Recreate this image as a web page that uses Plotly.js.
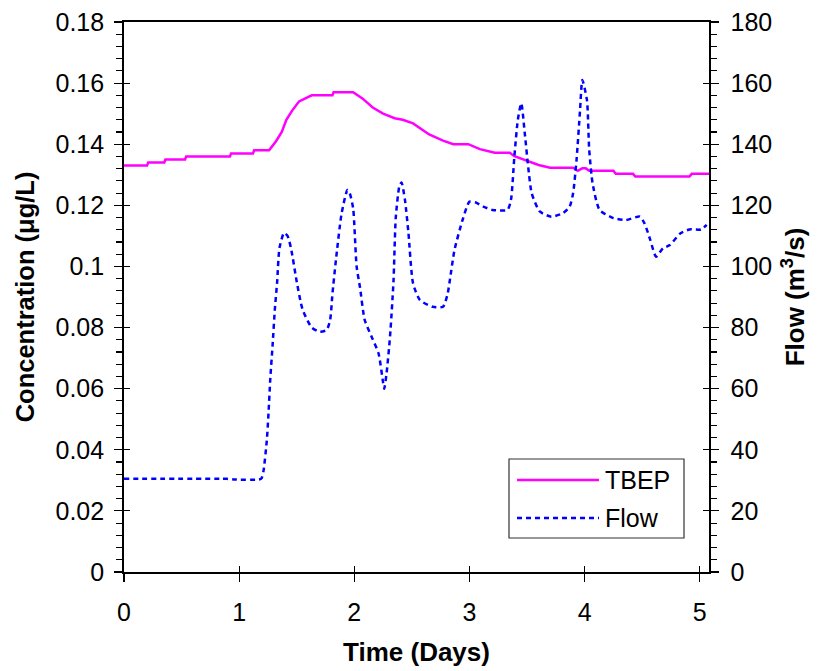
<!DOCTYPE html>
<html>
<head>
<meta charset="utf-8">
<script src="https://cdn.plot.ly/plotly-3.0.1.min.js"></script>
<style>
  html, body { margin: 0; padding: 0; background: #fff; }
  #chart { width: 817px; height: 671px; }
</style>
</head>
<body>
<div id="chart"></div>
<script>
// TBEP concentration (µg/L) against time (days)
const tbepDays = [0, 0.20, 0.21, 0.35, 0.36, 0.53, 0.54, 0.92, 0.93, 1.12, 1.13, 1.26, 1.32, 1.37, 1.41, 1.46, 1.52, 1.57, 1.63, 1.81, 1.82, 1.99, 2.07, 2.16, 2.25, 2.35, 2.42, 2.51, 2.57, 2.65, 2.77, 2.86, 2.99, 3.09, 3.22, 3.35, 3.39, 3.48, 3.55, 3.60, 3.70, 3.90, 3.94, 3.98, 4.01, 4.04, 4.25, 4.27, 4.42, 4.44, 4.91, 4.93, 5.08];
const tbepConc = [0.133, 0.133, 0.134, 0.134, 0.135, 0.135, 0.136, 0.136, 0.137, 0.137, 0.138, 0.138, 0.141, 0.144, 0.148, 0.151, 0.154, 0.155, 0.156, 0.156, 0.157, 0.157, 0.155, 0.152, 0.150, 0.1485, 0.148, 0.1468, 0.1452, 0.1432, 0.1412, 0.140, 0.140, 0.1384, 0.1372, 0.1372, 0.1361, 0.1348, 0.1338, 0.1332, 0.1323, 0.1323, 0.1313, 0.1321, 0.1321, 0.1313, 0.1313, 0.1303, 0.1303, 0.1294, 0.1294, 0.1303, 0.1303];

// River flow (m3/s) against time (days)
const flowDays = [0, 0.89, 0.95, 1.19, 1.21, 1.24, 1.255, 1.27, 1.29, 1.31, 1.33, 1.35, 1.39, 1.42, 1.45, 1.50, 1.55, 1.63, 1.70, 1.76, 1.79, 1.81, 1.84, 1.89, 1.94, 1.96, 1.99, 2.02, 2.05, 2.09, 2.15, 2.21, 2.25, 2.26, 2.28, 2.31, 2.34, 2.36, 2.39, 2.41, 2.44, 2.47, 2.51, 2.57, 2.68, 2.77, 2.81, 2.83, 2.87, 2.94, 3.00, 3.05, 3.12, 3.20, 3.33, 3.36, 3.39, 3.42, 3.45, 3.48, 3.51, 3.54, 3.61, 3.71, 3.81, 3.87, 3.90, 3.93, 3.96, 3.98, 4.02, 4.04, 4.07, 4.13, 4.25, 4.36, 4.48, 4.52, 4.57, 4.62, 4.68, 4.74, 4.83, 4.91, 5.01, 5.06];
const flowValues = [30.5, 30.5, 30.3, 30.5, 32.8, 43, 52, 63, 74, 86, 95, 106, 111, 110, 106, 95, 86, 80, 78.6, 79.2, 82.5, 91, 102, 117.4, 125, 124, 119, 100, 93, 82.5, 77, 71.6, 62, 60, 65, 77, 95, 116, 126, 127.5, 121.7, 111, 94.5, 89, 86.8, 86.8, 91, 95.6, 105.4, 115.2, 121.2, 121, 119.6, 118.5, 118.5, 121.7, 136, 148, 153.4, 143.6, 132.6, 124, 118, 116.3, 117.4, 119.6, 124, 135, 151, 161, 154.5, 138, 127, 118.5, 115.8, 115.2, 116.3, 114.1, 108.7, 103.2, 105.9, 107, 110.8, 112.1, 112.1, 113.6];

// Axis ticks and labels
const xTicks = [0, 1, 2, 3, 4, 5];
const concTicks = [0, 0.02, 0.04, 0.06, 0.08, 0.1, 0.12, 0.14, 0.16, 0.18];
const concTickText = ['0', '0.02', '0.04', '0.06', '0.08', '0.1', '0.12', '0.14', '0.16', '0.18'];
const flowTicks = [0, 20, 40, 60, 80, 100, 120, 140, 160, 180];
const seriesNames = ['TBEP', 'Flow'];

const FONT = 'Liberation Sans, Arial, Helvetica, sans-serif';
const MAGENTA = '#ff00ff';
const BLUE = '#0000ff';

const traces = [
  {
    x: tbepDays, y: tbepConc, name: seriesNames[0], type: 'scatter', mode: 'lines',
    line: { color: MAGENTA, width: 2.5 }, xaxis: 'x', yaxis: 'y', showlegend: false
  },
  {
    x: flowDays, y: flowValues, name: seriesNames[1], type: 'scatter', mode: 'lines',
    line: { color: BLUE, width: 2.5, dash: '5px,4px', shape: 'spline', smoothing: 0.6 },
    xaxis: 'x', yaxis: 'y2', showlegend: false
  }
];

const tickFont = { family: FONT, size: 25, color: '#000' };
const titleFont = { family: FONT, size: 26, color: '#000', weight: 'bold' };
const yTitleFont = { family: FONT, size: 25.5, color: '#000', weight: 'bold' };

// helper: a tick-only axis drawn on the inner side so major ticks cross the spine
function innerTicks(base) {
  return Object.assign({
    ticks: 'inside', ticklen: 6, tickwidth: 1.2, tickcolor: '#000',
    showticklabels: false, showline: false, showgrid: false, zeroline: false, fixedrange: true
  }, base);
}

// legend box drawn in paper coordinates
const plotL = 124, plotR = 709, plotT = 22, plotB = 572;
const px = v => (v - plotL) / (plotR - plotL);
const py = v => (plotB - v) / (plotB - plotT);

const layout = {
  width: 817, height: 671,
  margin: { l: plotL, r: 817 - plotR, t: plotT, b: 671 - plotB, pad: 0 },
  paper_bgcolor: '#fff', plot_bgcolor: '#fff',
  showlegend: false,
  font: { family: FONT, color: '#000' },
  xaxis: {
    range: [0, 5.08], tickmode: 'array', tickvals: xTicks,
    ticks: 'outside', ticklen: 8, tickwidth: 1.2, tickcolor: '#000',
    showline: true, linecolor: '#000', linewidth: 1.8, mirror: true,
    showgrid: false, zeroline: false, tickfont: tickFont, ticklabelstandoff: 9,
    title: { text: 'Time (Days)', font: titleFont, standoff: 18 }
  },
  xaxis2: innerTicks({ overlaying: 'x', anchor: 'y', side: 'bottom', range: [0, 5.08], tickmode: 'array', tickvals: xTicks }),
  yaxis: {
    range: [0, 0.18], tickmode: 'array', tickvals: concTicks, ticktext: concTickText,
    ticks: 'outside', ticklen: 8, tickwidth: 1.2, tickcolor: '#000',
    minor: { dtick: 0.004, tick0: 0, ticks: 'outside', ticklen: 6, tickwidth: 1.2, tickcolor: '#000' },
    showline: true, linecolor: '#000', linewidth: 1.8,
    showgrid: false, zeroline: false, tickfont: tickFont, ticklabelstandoff: 5,
    title: { text: 'Concentration (\u03bcg/L)', font: yTitleFont, standoff: 14 }
  },
  yaxis3: innerTicks({ overlaying: 'y', anchor: 'x', side: 'left', range: [0, 0.18], tickmode: 'array', tickvals: concTicks }),
  yaxis2: {
    overlaying: 'y', anchor: 'x', side: 'right', range: [0, 180], tickmode: 'array', tickvals: flowTicks,
    ticks: 'outside', ticklen: 8, tickwidth: 1.2, tickcolor: '#000',
    minor: { dtick: 4, tick0: 0, ticks: 'outside', ticklen: 6, tickwidth: 1.2, tickcolor: '#000' },
    showline: true, linecolor: '#000', linewidth: 1.5,
    showgrid: false, zeroline: false, tickfont: tickFont, ticklabelstandoff: 7,
    title: { text: 'Flow (m<sup>3</sup>/s)', font: titleFont, standoff: 14 }
  },
  yaxis4: innerTicks({ overlaying: 'y', anchor: 'x', side: 'right', range: [0, 180], tickmode: 'array', tickvals: flowTicks }),
  shapes: [
    { type: 'rect', xref: 'paper', yref: 'paper', x0: px(509), x1: px(684), y0: py(538), y1: py(459),
      line: { color: '#333', width: 1.2 }, fillcolor: '#fff', layer: 'above' },
    { type: 'line', xref: 'paper', yref: 'paper', x0: px(517), x1: px(599), y0: py(480), y1: py(480),
      line: { color: MAGENTA, width: 2.5 }, layer: 'above' },
    { type: 'line', xref: 'paper', yref: 'paper', x0: px(517), x1: px(599), y0: py(518), y1: py(518),
      line: { color: BLUE, width: 2.5, dash: '5px,4px' }, layer: 'above' }
  ],
  annotations: [
    { xref: 'paper', yref: 'paper', x: px(603), y: py(480), xanchor: 'left', yanchor: 'middle',
      text: seriesNames[0], showarrow: false, font: { family: FONT, size: 25, color: '#000' } },
    { xref: 'paper', yref: 'paper', x: px(603), y: py(518), xanchor: 'left', yanchor: 'middle',
      text: seriesNames[1], showarrow: false, font: { family: FONT, size: 25, color: '#000' } }
  ]
};

// invisible traces so the tick-only overlay axes are drawn
traces.push({ x: [0], y: [0], xaxis: 'x2', yaxis: 'y3', mode: 'none', hoverinfo: 'skip', showlegend: false });
traces.push({ x: [0], y: [0], xaxis: 'x2', yaxis: 'y4', mode: 'none', hoverinfo: 'skip', showlegend: false });

Plotly.newPlot('chart', traces, layout, { staticPlot: true, displayModeBar: false });
</script>
</body>
</html>
